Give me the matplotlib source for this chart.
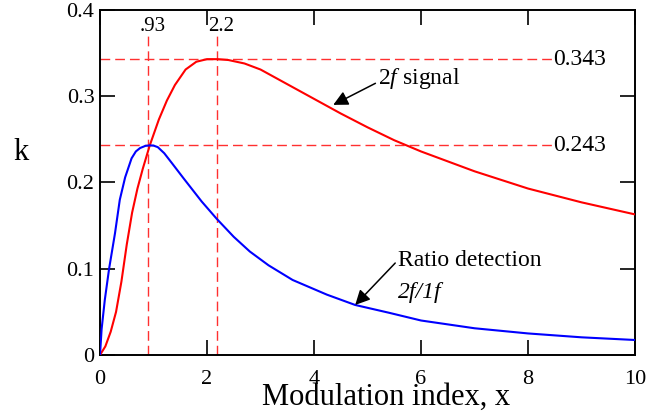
import matplotlib
matplotlib.use("Agg")
import matplotlib.pyplot as plt

# ---- data ----
x_2f = [0, 0.1, 0.2, 0.3, 0.4, 0.5, 0.6, 0.7, 0.8, 0.93, 1.1, 1.25, 1.4, 1.6, 1.8,
        2.0, 2.2, 2.4, 2.7, 3.0, 3.5, 4.0, 4.5, 5.0, 5.5, 6.0, 7.0, 8.0, 9.0, 10.0]
k_2f = [0, 0.010, 0.027, 0.050, 0.085, 0.128, 0.165, 0.193, 0.216, 0.243, 0.273, 0.295,
        0.313, 0.331, 0.340, 0.343, 0.343, 0.342, 0.338, 0.331, 0.314, 0.297, 0.280,
        0.264, 0.249, 0.236, 0.213, 0.193, 0.177, 0.163]

x_ratio = [0, 0.03, 0.09, 0.17, 0.28, 0.37, 0.47, 0.59, 0.67, 0.75, 0.85, 0.93, 1.0,
           1.08, 1.2, 1.35, 1.56, 1.9, 2.18, 2.5, 2.8, 3.15, 3.6, 4.24, 4.77, 5.4,
           6.0, 7.0, 8.0, 9.0, 10.0]
k_ratio = [0, 0.030, 0.064, 0.100, 0.141, 0.180, 0.206, 0.228, 0.236, 0.240, 0.2425,
           0.243, 0.2428, 0.241, 0.234, 0.222, 0.205, 0.178, 0.158, 0.137, 0.120,
           0.104, 0.087, 0.070, 0.058, 0.049, 0.040, 0.031, 0.025, 0.0205, 0.0174]

peak_x = [0.9, 2.18]          # where the dashed verticals sit
peak_x_labels = [".93", "2.2"]
peak_k = [0.343, 0.243]
peak_k_labels = ["0.343", "0.243"]

x_ticks = [0, 2, 4, 6, 8, 10]
y_ticks = [0, 0.1, 0.2, 0.3, 0.4]
y_tick_labels = ["0", "0.1", "0.2", "0.3", "0.4"]

plt.rcParams["font.family"] = ["Liberation Serif", "DejaVu Serif"]
plt.rcParams["mathtext.fontset"] = "custom"
plt.rcParams["mathtext.rm"] = "Liberation Serif"
plt.rcParams["mathtext.it"] = "Liberation Serif:italic"

fig = plt.figure(figsize=(6.5, 4.16), dpi=100)
ax = fig.add_axes([100/650, 1-355/416, 535/650, 345/416])

ax.plot(x_2f, k_2f, color="#ff0000", lw=1.5, zorder=3)
ax.plot(x_ratio, k_ratio, color="#0000ff", lw=1.5, zorder=3)

dash = (0, (7, 3.6))
for xv, lab in zip(peak_x, peak_x_labels):
    ax.plot([xv, xv], [0, 0.372], color="#ff3030", lw=1.0, ls=dash, zorder=2)
    ax.text(xv + 0.08, 0.381, lab, ha="center", va="center", fontsize=15)
for kv, lab in zip(peak_k, peak_k_labels):
    ax.plot([0, 8.45], [kv, kv], color="#ff3030", lw=1.0, ls=dash, zorder=2)
    ax.text(8.47, kv, lab, ha="left", va="center", fontsize=17)

arrow = dict(arrowstyle="-|>", color="black", lw=1.1, mutation_scale=22,
             shrinkA=0, shrinkB=0)
ax.annotate(r"$\mathit{2f}$ signal", xy=(4.36, 0.290), xytext=(5.2, 0.321),
            ha="left", va="center", fontsize=17,
            arrowprops=dict(arrow, relpos=(0, 0.35)))
ax.annotate("Ratio detection", xy=(4.77, 0.058), xytext=(5.57, 0.110),
            ha="left", va="center", fontsize=17,
            arrowprops=dict(arrow, relpos=(0, 0.5)))
ax.text(5.57, 0.073, "2f/1f", ha="left", va="center", fontsize=17, fontstyle="italic")

ax.set_xlim(0, 10)
ax.set_ylim(0, 0.4)
ax.set_xticks(x_ticks)
ax.set_yticks(y_ticks)
ax.set_yticklabels(y_tick_labels)
ax.tick_params(direction="in", length=11, width=1.2, top=True, right=True,
               labelsize=16)
ax.tick_params(axis="x", pad=11)
ax.tick_params(axis="y", pad=4)
for s in ax.spines.values():
    s.set_linewidth(1.4)

fig.text(21/650, 1-152/416, "k", ha="center", va="center", fontsize=22)
fig.text(386/650, 1-397/416, "Modulation index, x", ha="center", va="center", fontsize=22)

fig.savefig("out.png", dpi=100)
